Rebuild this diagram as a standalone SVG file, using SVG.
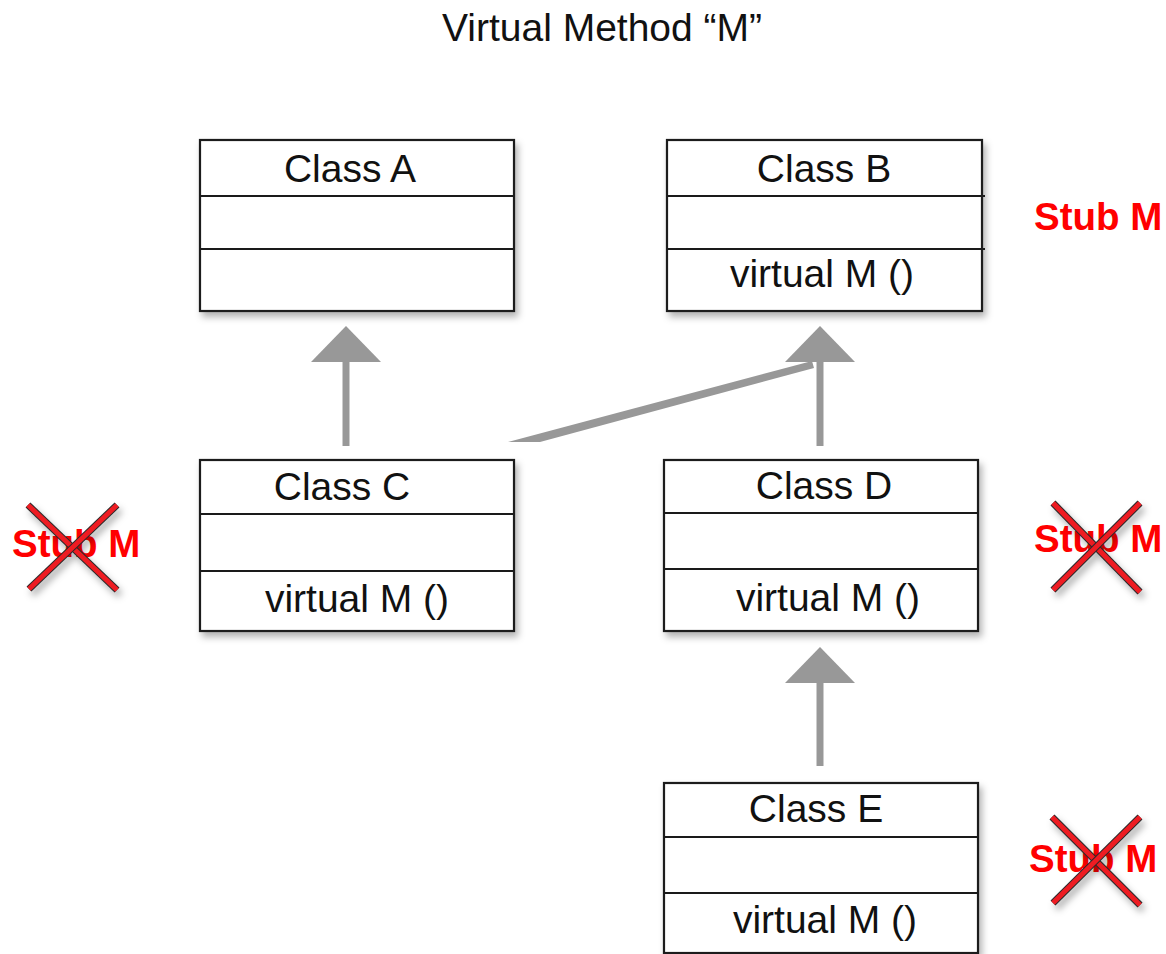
<svg xmlns="http://www.w3.org/2000/svg" width="1166" height="954" viewBox="0 0 1166 954">
<defs>
<style>
.box{fill:#fff;stroke:#1a1a1a;stroke-width:2.2}
.div{stroke:#1a1a1a;stroke-width:2.2}
.lbl{font-family:"Liberation Sans",Arial,Helvetica,sans-serif;font-size:39px;fill:#111;text-anchor:middle}
.title{font-family:"Liberation Sans",Arial,Helvetica,sans-serif;font-size:39px;fill:#111;text-anchor:middle}
.stub{font-family:"Liberation Sans",Arial,Helvetica,sans-serif;font-size:38.5px;font-weight:bold;fill:#ff0000}
.conn{stroke:#989898;stroke-width:7;fill:none}
.head{fill:#989898}
.xo{stroke:#2a2a2a;stroke-width:7;stroke-linecap:butt}
.xi{stroke:#ee1c24;stroke-width:5;stroke-linecap:butt}
</style>
<filter id="sh" x="-10%" y="-10%" width="125%" height="130%">
<feDropShadow dx="3" dy="5" stdDeviation="3.5" flood-color="#000" flood-opacity="0.3"/>
</filter>
</defs>
<rect width="1166" height="954" fill="#fff"/>
<text class="title" x="602" y="41">Virtual Method “M”</text>

<g id="connectors">
<line class="conn" x1="346" y1="446" x2="346" y2="360"/>
<polygon class="head" points="346,326 381,362 311,362"/>
<polygon class="head" points="508,442 812,361 814,368 540,442"/>
<line class="conn" x1="820" y1="446" x2="820" y2="360"/>
<polygon class="head" points="820,326 855,362 785,362"/>
<line class="conn" x1="820" y1="766" x2="820" y2="681"/>
<polygon class="head" points="820,647 855,683 785,683"/>
</g>

<g id="classA">
<rect class="box" x="200" y="140" width="314" height="171" filter="url(#sh)"/>
<line class="div" x1="200" y1="196" x2="514" y2="196"/>
<line class="div" x1="200" y1="249" x2="514" y2="249"/>
<text class="lbl" x="350" y="182">Class A</text>
</g>

<g id="classB">
<rect class="box" x="667" y="140" width="315" height="171" filter="url(#sh)"/>
<line class="div" x1="667" y1="196" x2="985" y2="196"/>
<line class="div" x1="667" y1="249" x2="985" y2="249"/>
<text class="lbl" x="824" y="182">Class B</text>
<text class="lbl" x="822" y="287">virtual M ()</text>
</g>

<g id="stubB">
<text class="stub" x="1034" y="230">Stub M</text>
</g>

<g id="classC">
<rect class="box" x="200" y="460" width="314" height="171" filter="url(#sh)"/>
<line class="div" x1="200" y1="514" x2="514" y2="514"/>
<line class="div" x1="200" y1="571" x2="514" y2="571"/>
<text class="lbl" x="342" y="500">Class C</text>
<text class="lbl" x="357" y="612">virtual M ()</text>
</g>

<g id="stubC">
<text class="stub" x="12" y="557">Stub M</text>
<g filter="url(#sh)">
<line class="xo" x1="28" y1="505" x2="117" y2="590"/>
<line class="xi" x1="28" y1="505" x2="117" y2="590"/>
<line class="xo" x1="117" y1="505" x2="29" y2="589"/>
<line class="xi" x1="117" y1="505" x2="29" y2="589"/>
</g>
</g>

<g id="classD">
<rect class="box" x="664" y="460" width="314" height="171" filter="url(#sh)"/>
<line class="div" x1="664" y1="513" x2="978" y2="513"/>
<line class="div" x1="664" y1="569" x2="978" y2="569"/>
<text class="lbl" x="824" y="499">Class D</text>
<text class="lbl" x="828" y="611">virtual M ()</text>
</g>

<g id="stubD">
<text class="stub" x="1034" y="552">Stub M</text>
<g filter="url(#sh)">
<line class="xo" x1="1053" y1="503" x2="1140" y2="592"/>
<line class="xi" x1="1053" y1="503" x2="1140" y2="592"/>
<line class="xo" x1="1140" y1="503" x2="1053" y2="590"/>
<line class="xi" x1="1140" y1="503" x2="1053" y2="590"/>
</g>
</g>

<g id="classE">
<rect class="box" x="664" y="783" width="314" height="170" filter="url(#sh)"/>
<line class="div" x1="664" y1="837" x2="978" y2="837"/>
<line class="div" x1="664" y1="893" x2="978" y2="893"/>
<text class="lbl" x="816" y="822">Class E</text>
<text class="lbl" x="825" y="933">virtual M ()</text>
</g>

<g id="stubE">
<text class="stub" x="1029" y="872">Stub M</text>
<g filter="url(#sh)">
<line class="xo" x1="1052" y1="817" x2="1140" y2="905"/>
<line class="xi" x1="1052" y1="817" x2="1140" y2="905"/>
<line class="xo" x1="1140" y1="817" x2="1053" y2="903"/>
<line class="xi" x1="1140" y1="817" x2="1053" y2="903"/>
</g>
</g>
</svg>
